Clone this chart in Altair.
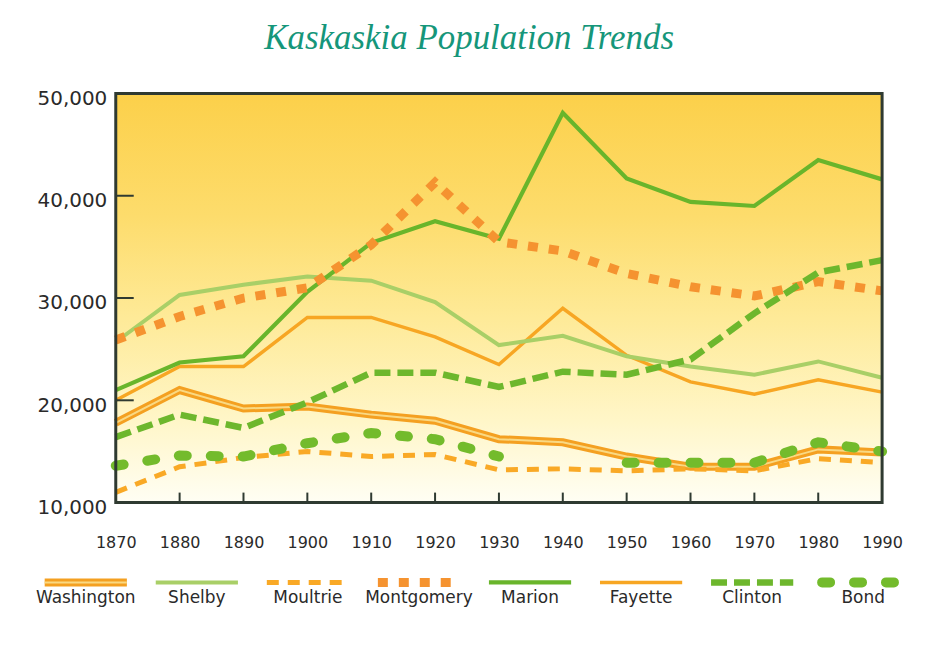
import altair as alt
import pandas as pd

# ---------------- data ----------------
years = [1870, 1880, 1890, 1900, 1910, 1920, 1930, 1940, 1950, 1960, 1970, 1980, 1990]
washington = [17800, 21000, 19200, 19400, 18600, 18000, 16200, 15900, 14500, 13500, 13500, 15200, 14900]
shelby     = [25700, 30300, 31300, 32100, 31700, 29600, 25400, 26300, 24300, 23300, 22500, 23800, 22200]
moultrie   = [11000, 13500, 14400, 15000, 14500, 14700, 13200, 13300, 13100, 13300, 13100, 14300, 13900]
montgomery = [25900, 28200, 30000, 31000, 35200, 41300, 35500, 34600, 32400, 31100, 30200, 31600, 30700]
marion     = [21000, 23700, 24300, 30600, 35400, 37500, 35800, 48100, 41700, 39400, 39000, 43500, 41600]
fayette    = [20000, 23300, 23300, 28100, 28100, 26200, 23500, 29000, 24400, 21800, 20600, 22000, 20800]
clinton    = [16400, 18600, 17300, 19800, 22700, 22700, 21300, 22800, 22500, 24000, 28500, 32500, 33700]
bond       = [13600, 14600, 14500, 15800, 16800, 16200, 14500, None, 13900, 13900, 13900, 15900, 15000]

series_names = ["Washington", "Shelby", "Moultrie", "Montgomery", "Marion", "Fayette", "Clinton", "Bond"]
series_values = [washington, shelby, moultrie, montgomery, marion, fayette, clinton, bond]
y_ticks = [10000, 20000, 30000, 40000, 50000]
title_text = "Kaskaskia Population Trends"

# ---------------- styles ----------------
styles = {
    "Washington": dict(color="#f4a021", strokeWidth=8),
    "Shelby":     dict(color="#a9cf67", strokeWidth=4),
    "Moultrie":   dict(color="#f9a926", strokeWidth=5, strokeDash=[12, 9]),
    "Montgomery": dict(color="#f59330", strokeWidth=9, strokeDash=[10, 11]),
    "Marion":     dict(color="#69b52b", strokeWidth=4.2),
    "Fayette":    dict(color="#f7a623", strokeWidth=3.5),
    "Clinton":    dict(color="#6db72d", strokeWidth=6.5, strokeDash=[16, 7]),
    "Bond":       dict(color="#73bb2c", strokeWidth=10, strokeDash=[8, 24], strokeCap="round"),
}
inner_washington = dict(color="#f9d983", strokeWidth=2)
draw_order = ["Washington", "Moultrie", "Fayette", "Shelby", "Marion", "Montgomery", "Clinton", "Bond"]

# long table, with a segment id so gaps (None) break the line
rows = []
for name, vals in zip(series_names, series_values):
    seg = 0
    for yr, v in zip(years, vals):
        if v is None:
            seg += 1
            continue
        rows.append({"series": name, "year": yr, "pop": v, "seg": f"{name}-{seg}"})
df = pd.DataFrame(rows)

W, H = 768, 410
xs = alt.Scale(domain=[years[0], years[-1]], nice=False, zero=False)
ys = alt.Scale(domain=[y_ticks[0], y_ticks[-1]], nice=False, zero=False)

frame_df = pd.DataFrame({"x0": [years[0]], "x1": [years[-1]], "y0": [y_ticks[0]], "y1": [y_ticks[-1]]})

gradient = {
    "gradient": "linear", "x1": 0, "x2": 0, "y1": 0, "y2": 1,
    "stops": [
        {"offset": 0.0, "color": "#fcd04a"},
        {"offset": 0.3, "color": "#fddc6c"},
        {"offset": 0.55, "color": "#feea98"},
        {"offset": 0.8, "color": "#fff6c8"},
        {"offset": 1.0, "color": "#fffef4"},
    ],
}

dark = "#2f3a31"
label_color = "#2a2a2a"

bg = alt.Chart(frame_df).mark_rect(fill=gradient).encode(
    x=alt.X("x0:Q", scale=xs, axis=alt.Axis(
        values=years, format="d", title=None, ticks=False, domain=False, grid=False,
        labelFontSize=16, labelFont="DejaVu Sans", labelColor=label_color,
        labelPadding=32, labelFlush=False, labelOverlap=False)),
    x2="x1:Q",
    y=alt.Y("y0:Q", scale=ys, axis=alt.Axis(
        values=y_ticks, format=",.0f", title=None, ticks=False, domain=False, grid=False,
        labelFontSize=20, labelFont="DejaVu Sans", labelColor=label_color,
        labelPadding=9, labelOffset=5, minExtent=108, maxExtent=108, labelOverlap=False)),
    y2="y1:Q",
)

layers = [bg]
for name in draw_order:
    st = styles[name]
    sub = df[df["series"] == name]
    layers.append(
        alt.Chart(sub).mark_line(**st).encode(
            x=alt.X("year:Q", scale=xs, axis=None),
            y=alt.Y("pop:Q", scale=ys, axis=None),
            detail="seg:N",
            order="year:Q",
        )
    )
    if name == "Washington":
        layers.append(
            alt.Chart(sub).mark_line(**inner_washington).encode(
                x=alt.X("year:Q", scale=xs, axis=None),
                y=alt.Y("pop:Q", scale=ys, axis=None),
                detail="seg:N",
                order="year:Q",
            )
        )

# inward-pointing tick marks on the frame
xtick_df = pd.DataFrame({"year": years[1:-1], "base": y_ticks[0]})
ytick_df = pd.DataFrame({"pop": y_ticks[1:-1], "base": years[0]})
xticks = alt.Chart(xtick_df).mark_rule(color=dark, strokeWidth=2, y2Offset=-10).encode(
    x=alt.X("year:Q", scale=xs, axis=None),
    y=alt.Y("base:Q", scale=ys, axis=None),
    y2="base:Q",
)
yticks = alt.Chart(ytick_df).mark_rule(color=dark, strokeWidth=2, x2Offset=18).encode(
    x=alt.X("base:Q", scale=xs, axis=None),
    x2="base:Q",
    y=alt.Y("pop:Q", scale=ys, axis=None),
)
frame = alt.Chart(frame_df).mark_rect(fillOpacity=0, stroke=dark, strokeWidth=3).encode(
    x=alt.X("x0:Q", scale=xs, axis=None),
    x2="x1:Q",
    y=alt.Y("y0:Q", scale=ys, axis=None),
    y2="y1:Q",
)
layers += [xticks, yticks, frame]

main = alt.layer(*layers).resolve_axis(x="independent", y="independent").properties(width=W, height=H)

# ---------------- custom legend (its view is aligned with the plot area) ----------------
leg_df = pd.DataFrame({"series": series_names, "i": list(range(len(series_names)))})
lxs = alt.Scale(domain=[0.27, 7.17], nice=False, zero=False)

def leg_line(name, st):
    return alt.Chart(leg_df[leg_df["series"] == name]).transform_calculate(
        a="datum.i - 0.37", b="datum.i + 0.37"
    ).transform_fold(["a", "b"], as_=["end", "lx"]).mark_line(**st).encode(
        x=alt.X("lx:Q", scale=lxs, axis=None),
        y=alt.value(22),
        detail="series:N",
    )

leg_layers = []
for name in series_names:
    leg_layers.append(leg_line(name, styles[name]))
    if name == "Washington":
        leg_layers.append(leg_line(name, inner_washington))

leg_text = alt.Chart(leg_df).mark_text(
    fontSize=17, font="DejaVu Sans", color=label_color, baseline="middle"
).encode(
    x=alt.X("i:Q", scale=lxs, axis=None),
    y=alt.value(38),
    text="series:N",
)
leg_layers.append(leg_text)
legend = alt.layer(*leg_layers).properties(width=W, height=46)

chart = alt.vconcat(main, legend, spacing=10).properties(
    title=alt.TitleParams(title_text, anchor="middle", offset=33, dx=3),
    padding={"left": 0, "top": 12, "right": 0, "bottom": 0},
).configure_view(strokeWidth=0).configure_title(
    font="Liberation Serif", fontStyle="italic", fontWeight="normal", fontSize=35, color="#15967a"
)

chart.save("out.html", embed_options={"renderer": "svg", "actions": False})
